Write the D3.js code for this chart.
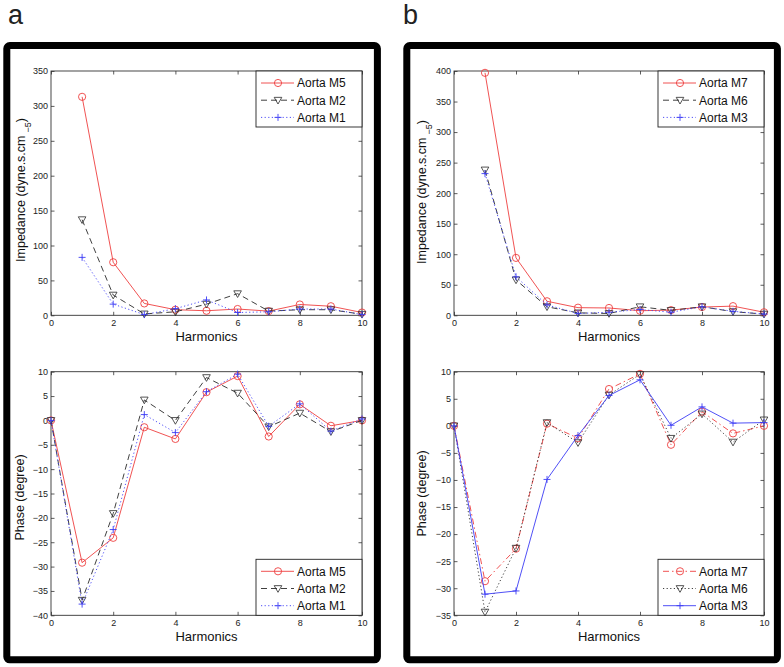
<!DOCTYPE html>
<html>
<head>
<meta charset="utf-8">
<script src="https://cdn.jsdelivr.net/npm/d3@7"></script>
<style>
  html, body { margin: 0; padding: 0; background: #fff; }
  svg { display: block; font-family: "Liberation Sans", Arial, sans-serif; }
</style>
</head>
<body>
<svg id="chart" width="784" height="667"></svg>
<script>
// ---------------- data ----------------
const harmonicsImp = [1, 2, 3, 4, 5, 6, 7, 8, 9, 10];
const harmonicsPhase = [0, 1, 2, 3, 4, 5, 6, 7, 8, 9, 10];

// panel a
const impM5 = [313, 76, 17, 8, 6.5, 9, 6, 15.5, 13, 4];
const impM2 = [137, 29, 2, 5, 16, 31, 6, 8, 8, 1.5];
const impM1 = [83, 16, 1, 9.5, 22, 4, 5, 9, 9, 1];
const phaseM5 = [0, -29.2, -24.1, -1.4, -3.8, 5.8, 9.1, -3.3, 3.3, -1.1, 0];
const phaseM2 = [0, -36.9, -19.1, 4.2, 0, 8.8, 5.6, -1.3, 1.5, -2.3, 0];
const phaseM1 = [0, -37.7, -22.4, 1.2, -2.5, 5.9, 9.5, -1.2, 3.4, -2.2, 0.3];

// panel b
const impM7 = [397, 94, 23, 12.5, 12, 7.5, 8.5, 13.5, 15, 5];
const impM6 = [238, 58, 14, 4, 3, 14, 8, 14, 6, 2];
const impM3 = [232, 63, 17, 3, 5, 9.5, 5, 14, 6.5, 2];
const phaseM7 = [0, -28.7, -22.7, 0.4, -2.3, 6.8, 9.6, -3.5, 2.6, -1.4, 0];
const phaseM6 = [0, -34.4, -22.6, 0.6, -3.1, 5.7, 9.5, -2.3, 2.2, -3, 1.1];
const phaseM3 = [0, -31.1, -30.5, -9.9, -1.8, 5.6, 8.5, 0.1, 3.5, 0.5, 0.6];

const xTicks = [0, 2, 4, 6, 8, 10];
const impTicksA = [0, 50, 100, 150, 200, 250, 300, 350];
const impTicksB = [0, 50, 100, 150, 200, 250, 300, 350, 400];
const phaseTicksA = [-40, -35, -30, -25, -20, -15, -10, -5, 0, 5, 10];
const phaseTicksB = [-35, -30, -25, -20, -15, -10, -5, 0, 5, 10];

// ---------------- styles ----------------
const RED = "#ee3f3f", BLACK = "#2a2a2a", BLUE = "#3c3cf5";
const STYLE = {
  solid: null,
  dashed: "6,4",
  dotted: "1.2,2.4",
  dashdot: "6,3,1.5,3"
};

const svg = d3.select("#chart");

// frames & panel letters
[[6.8, "a", 8], [406.8, "b", 403]].forEach(([fx, letter, lx]) => {
  svg.append("rect")
    .attr("x", fx).attr("y", 45.5)
    .attr("width", 370.6).attr("height", 614.3)
    .attr("rx", 3)
    .attr("fill", "none").attr("stroke", "#000").attr("stroke-width", 7);
  svg.append("text").attr("x", lx).attr("y", 24)
    .attr("font-size", 27).attr("fill", "#222").text(letter);
});

function fmt(d) { return d < 0 ? "\u2212" + Math.abs(d) : String(d); }

function marker(g, type, color, x, y) {
  if (type === "circle") {
    g.append("circle").attr("cx", x).attr("cy", y).attr("r", 3.6)
      .attr("fill", "none").attr("stroke", color).attr("stroke-width", 0.9);
  } else if (type === "tri") {
    const s = 3.8;
    g.append("path")
      .attr("d", `M${x - s},${y - s * 0.75}L${x + s},${y - s * 0.75}L${x},${y + s}Z`)
      .attr("fill", "none").attr("stroke", color).attr("stroke-width", 0.8);
  } else {
    const s = 3.5;
    g.append("path")
      .attr("d", `M${x - s},${y}H${x + s}M${x},${y - s}V${y + s}`)
      .attr("stroke", color).attr("stroke-width", 0.9);
  }
}

function drawPlot(o) {
  const x = d3.scaleLinear().domain([0, 10]).range([o.x0, o.x1]);
  const y = d3.scaleLinear().domain(o.ydom).range([o.y1, o.y0]);
  const g = svg.append("g");

  // axes with inward ticks
  const styleAxis = sel => {
    sel.attr("font-family", "Liberation Sans, Arial, sans-serif").attr("font-size", 9);
    sel.selectAll("text").attr("fill", "#222");
    sel.selectAll("line").attr("stroke", "#333").attr("stroke-width", 0.8);
    sel.select(".domain").remove();
  };
  g.append("g").attr("transform", `translate(0,${o.y1})`)
    .call(d3.axisBottom(x).tickValues(xTicks).tickSize(-3.5).tickPadding(4).tickFormat(fmt))
    .call(styleAxis);
  g.append("g").attr("transform", `translate(0,${o.y0})`)
    .call(d3.axisTop(x).tickValues(xTicks).tickSize(-3.5).tickFormat(""))
    .call(styleAxis);
  g.append("g").attr("transform", `translate(${o.x0},0)`)
    .call(d3.axisLeft(y).tickValues(o.yticks).tickSize(-3.5).tickPadding(3).tickFormat(fmt))
    .call(styleAxis);
  g.append("g").attr("transform", `translate(${o.x1},0)`)
    .call(d3.axisRight(y).tickValues(o.yticks).tickSize(-3.5).tickFormat(""))
    .call(styleAxis);
  g.append("rect").attr("x", o.x0).attr("y", o.y0)
    .attr("width", o.x1 - o.x0).attr("height", o.y1 - o.y0)
    .attr("fill", "none").attr("stroke", "#333").attr("stroke-width", 0.9);

  // series
  const line = d3.line().x(d => x(d[0])).y(d => y(d[1]));
  o.series.forEach(s => {
    const pts = o.xs.map((h, i) => [h, s.values[i]]);
    g.append("path").datum(pts).attr("d", line)
      .attr("fill", "none").attr("stroke", s.color).attr("stroke-width", 0.9)
      .attr("stroke-dasharray", STYLE[s.dash]);
    pts.forEach(p => marker(g, s.marker, s.color, x(p[0]), y(p[1])));
  });

  // x label
  g.append("text").attr("x", (o.x0 + o.x1) / 2).attr("y", o.y1 + 26)
    .attr("text-anchor", "middle").attr("font-size", 13).attr("fill", "#111")
    .text("Harmonics");

  // y label
  const yl = g.append("text")
    .attr("transform", `translate(${o.ylx},${o.yly}) rotate(-90)`)
    .attr("text-anchor", "middle").attr("font-size", 12.5).attr("fill", "#111");
  if (o.imp) {
    yl.append("tspan").text("Impedance (dyne.s.cm");
    yl.append("tspan").attr("font-size", 9).attr("dx", 3).attr("dy", 6).text("\u22125");
    yl.append("tspan").attr("dy", -6).text(")");
  } else {
    yl.text("Phase (degree)");
  }

  // legend
  const lw = 106, lh = 56;
  const lx = o.x1 - lw, ly = o.legendTop ? o.y0 : o.y1 - lh;
  const lg = g.append("g");
  lg.append("rect").attr("x", lx).attr("y", ly).attr("width", lw).attr("height", lh)
    .attr("fill", "#fff").attr("stroke", "#222").attr("stroke-width", 0.9);
  o.series.forEach((s, i) => {
    const cy = ly + 12 + i * 17.2;
    lg.append("line").attr("x1", lx + 5).attr("x2", lx + 38).attr("y1", cy).attr("y2", cy)
      .attr("stroke", s.color).attr("stroke-width", 0.9)
      .attr("stroke-dasharray", STYLE[s.dash]);
    marker(lg, s.marker, s.color, lx + 22, cy);
    lg.append("text").attr("x", lx + 41).attr("y", cy + 4.3)
      .attr("font-size", 12).attr("fill", "#111").text(s.name);
  });
}

// Panel a
drawPlot({
  x0: 51, x1: 362, y0: 71, y1: 315.3, ydom: [0, 350], yticks: impTicksA,
  xs: harmonicsImp, imp: true, ylx: 24.5, yly: 190, legendTop: true,
  series: [
    { name: "Aorta M5", values: impM5, color: RED, dash: "solid", marker: "circle" },
    { name: "Aorta M2", values: impM2, color: BLACK, dash: "dashed", marker: "tri" },
    { name: "Aorta M1", values: impM1, color: BLUE, dash: "dotted", marker: "plus" }
  ]
});
drawPlot({
  x0: 51, x1: 362, y0: 371.7, y1: 615.3, ydom: [-40, 10], yticks: phaseTicksA,
  xs: harmonicsPhase, imp: false, ylx: 24, yly: 497.5, legendTop: false,
  series: [
    { name: "Aorta M5", values: phaseM5, color: RED, dash: "solid", marker: "circle" },
    { name: "Aorta M2", values: phaseM2, color: BLACK, dash: "dashed", marker: "tri" },
    { name: "Aorta M1", values: phaseM1, color: BLUE, dash: "dotted", marker: "plus" }
  ]
});

// Panel b
drawPlot({
  x0: 454, x1: 764, y0: 71, y1: 315.3, ydom: [0, 400], yticks: impTicksB,
  xs: harmonicsImp, imp: true, ylx: 426, yly: 192, legendTop: true,
  series: [
    { name: "Aorta M7", values: impM7, color: RED, dash: "solid", marker: "circle" },
    { name: "Aorta M6", values: impM6, color: BLACK, dash: "dashed", marker: "tri" },
    { name: "Aorta M3", values: impM3, color: BLUE, dash: "dotted", marker: "plus" }
  ]
});
drawPlot({
  x0: 454, x1: 764, y0: 371.7, y1: 615.3, ydom: [-35, 10], yticks: phaseTicksB,
  xs: harmonicsPhase, imp: false, ylx: 425.5, yly: 493.5, legendTop: false,
  series: [
    { name: "Aorta M7", values: phaseM7, color: RED, dash: "dashdot", marker: "circle" },
    { name: "Aorta M6", values: phaseM6, color: BLACK, dash: "dotted", marker: "tri" },
    { name: "Aorta M3", values: phaseM3, color: BLUE, dash: "solid", marker: "plus" }
  ]
});
</script>
</body>
</html>
